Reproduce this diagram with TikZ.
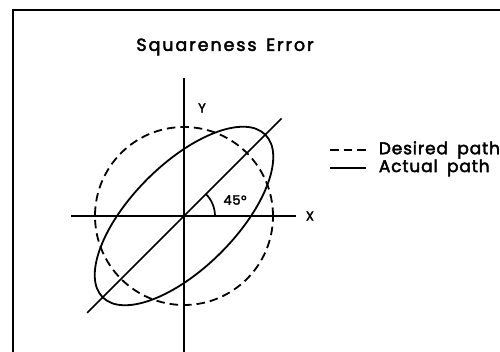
\documentclass[tikz,border=0pt]{standalone}
\usepackage{fontspec}
\setmainfont{Poppins}
\newfontfamily\titlefont{Poppins}[FakeBold=2.5, LetterSpace=11]
\newfontfamily\legfont{Poppins}[FakeBold=2.5, LetterSpace=5]
\usetikzlibrary{positioning, calc}

\begin{document}
\begin{tikzpicture}[
      x=1pt, y=1pt,
      line width=1.8pt,
      frame/.style={draw=black, line width=1.9pt},
      axis/.style={draw=black, line width=1.7pt},
      desired/.style={draw=black, dash pattern=on 8.5pt off 5pt, line width=1.8pt},
      actual/.style={draw=black, line width=1.8pt},
      lbl/.style={font=\legfont\fontsize{13}{15}\selectfont, inner sep=0pt},
      legtext/.style={font=\legfont\fontsize{17}{20}\selectfont, anchor=west, inner sep=0pt}
    ]
    \clip (0,0) rectangle (500,352);
    \draw[frame] (13,342) rectangle (515,-10);
    \node[font=\titlefont\fontsize{17.5}{20}\selectfont, inner sep=0pt] (title) at (225,305) {Squareness\hspace{3pt} Error};

    % axes
    \coordinate (o) at (184,136);
    \coordinate (xl) at (71,136);
    \coordinate (xr) at (296,136);
    \coordinate (yt) at (184,274);
    \coordinate (yb) at (184,-5);
    \draw[axis] (xl) -- (xr);
    \draw[axis] (yt) -- (yb);
    \node[lbl, right=9pt of xr] (xlab) {X};
    \node[lbl] (ylab) at (202,244) {Y};

    % paths
    \draw[desired] (o) circle [radius=89];
    \draw[actual, rotate around={45:(o)}] (o) ellipse [x radius=115, y radius=52];
    \draw[axis] ($(o)+(225:137)$) coordinate (dl) -- ($(o)+(45:138)$) coordinate (dr);
    \draw[axis] ($(o)+(31,0)$) arc [start angle=0, end angle=45, radius=31];
    \node[lbl] (ang) at (235,152) {45°};

    % legend
    \coordinate (d0) at (330,202);
    \coordinate (d1) at (366,202);
    \coordinate (a0) at (330,184);
    \coordinate (a1) at (366,184);
    \draw[desired] (d0) -- (d1);
    \draw[actual] (a0) -- (a1);
    \node[legtext, right=12pt of d1] (deslab) {Desired\hspace{4pt} path};
    \node[legtext, right=12pt of a1] (actlab) {Actual\hspace{4pt} path};
  \end{tikzpicture}
\end{document}
